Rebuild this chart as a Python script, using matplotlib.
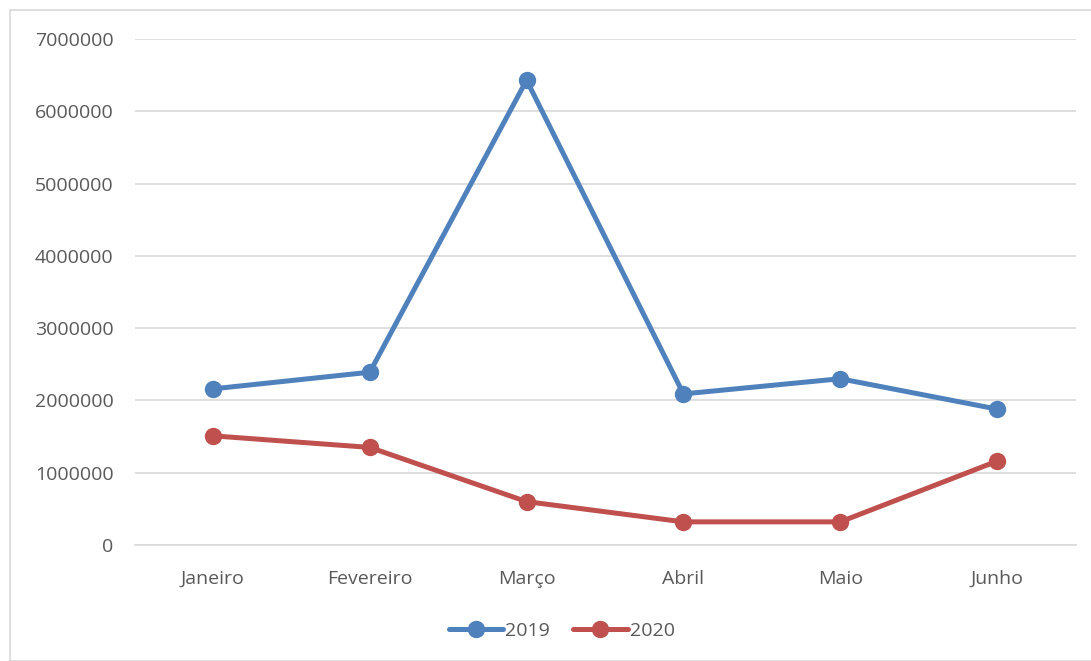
import matplotlib
matplotlib.use('Agg')
from matplotlib import pyplot as plt
from matplotlib.patches import Rectangle

months = ['Janeiro', 'Fevereiro', 'Março', 'Abril', 'Maio', 'Junho']
vals_2019 = [2160000, 2390000, 6430000, 2090000, 2300000, 1880000]
vals_2020 = [1510000, 1350000, 600000, 320000, 320000, 1160000]

plt.rcParams['font.family'] = ['Open Sans', 'DejaVu Sans']
text_color = '#595959'

fig = plt.figure(figsize=(10.91, 6.61), dpi=100)
ax = fig.add_axes([0.1233, 0.1755, 0.8625, 0.7655])

# chart frame
fig.patches.append(Rectangle((10 / 1091, 0), 1.0, 1 - 10 / 661, transform=fig.transFigure,
                             fill=False, edgecolor='#d9d9d9', linewidth=1.2))

x = range(len(months))
ax.plot(x, vals_2019, color='#4F81BD', linewidth=3.6, marker='o', markersize=11.5,
        solid_capstyle='round', label='2019')
ax.plot(x, vals_2020, color='#C0504D', linewidth=3.6, marker='o', markersize=11.5,
        solid_capstyle='round', label='2020')

ax.set_xlim(-0.5, len(months) - 0.5)
ax.set_ylim(0, 7000000)
ax.set_yticks(range(0, 7000001, 1000000))
ax.set_yticklabels([str(v) for v in range(0, 7000001, 1000000)])
ax.set_xticks(list(x))
ax.set_xticklabels(months)
ax.tick_params(axis='both', length=0, labelsize=14, colors=text_color)
ax.tick_params(axis='y', pad=15)
ax.tick_params(axis='x', pad=18)
ax.grid(axis='y', color='#d9d9d9', linewidth=1.2)
ax.set_axisbelow(True)
for s in ['top', 'right', 'left']:
    ax.spines[s].set_visible(False)
ax.spines['bottom'].set_color('#d9d9d9')
ax.spines['bottom'].set_linewidth(1.2)

ax.legend(loc='center', bbox_to_anchor=(0.454, -0.17), ncol=2, frameon=False,
          fontsize=14, labelcolor=text_color, handlelength=2.8, handletextpad=0.1,
          columnspacing=1.2)

plt.savefig('out.png', dpi=100)
plt.close()
